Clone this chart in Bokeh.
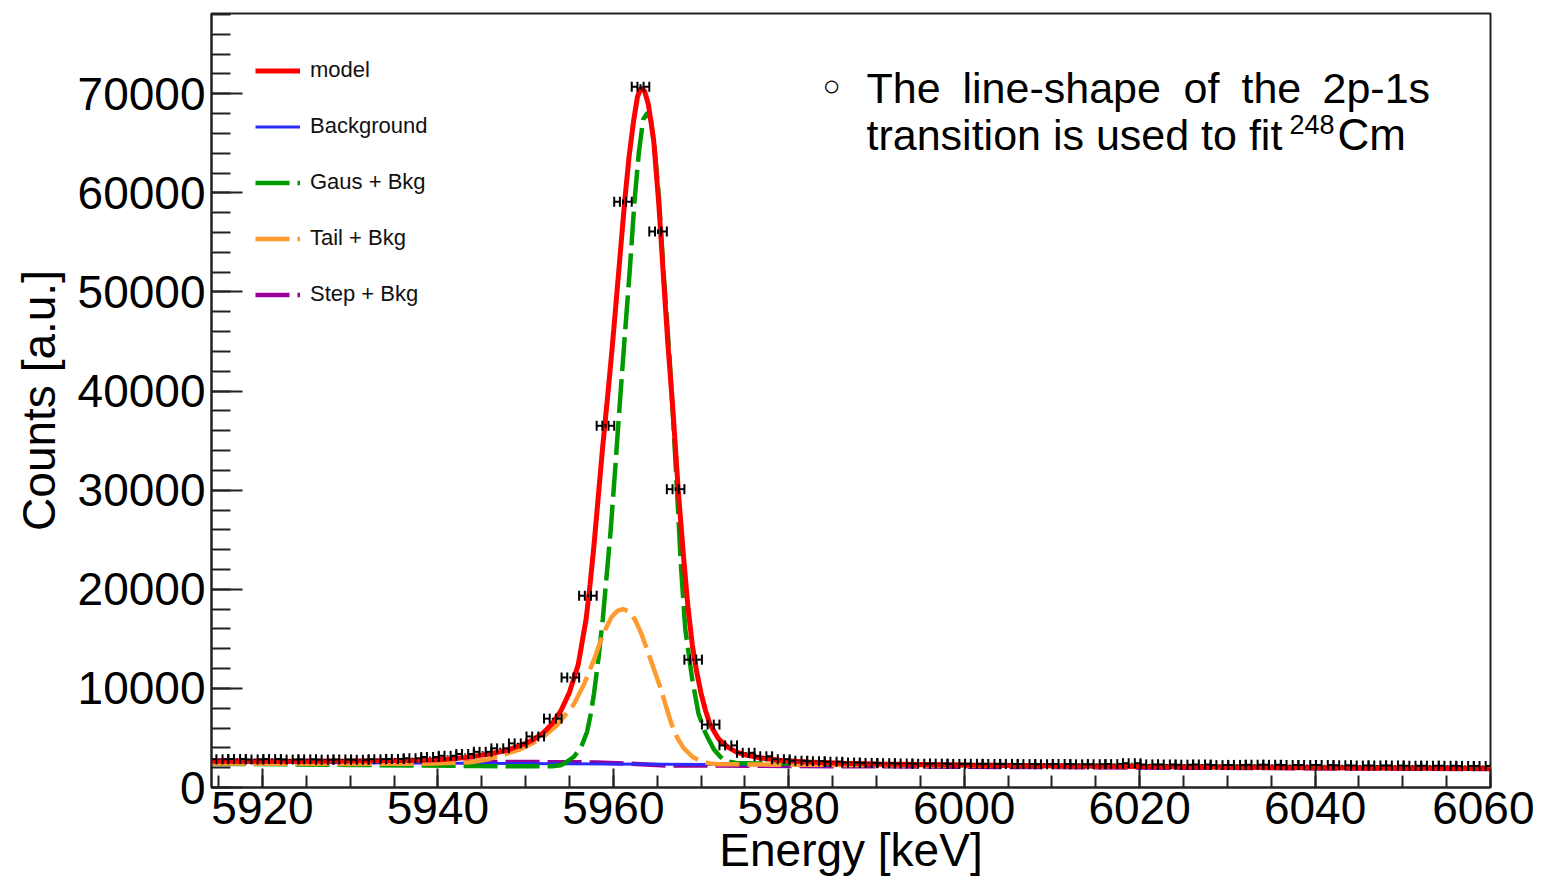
import numpy as np
from bokeh.plotting import figure
from bokeh.models import Range1d, SingleIntervalTicker, Legend, LegendItem, Label
from bokeh.embed import file_html
from bokeh.resources import INLINE

# ---------------- data ----------------
bin_centers = [5915.1, 5917.1, 5919.1, 5921.1, 5923.1, 5925.1, 5927.1, 5929.1, 5931.1, 5933.1,
               5935.1, 5937.1, 5939.1, 5941.1, 5943.1, 5945.1, 5947.1, 5949.1, 5951.1, 5953.1,
               5955.1, 5957.1, 5959.1, 5961.1, 5963.1, 5965.1, 5967.1, 5969.1, 5971.1, 5973.1,
               5975.1, 5977.1, 5979.1, 5981.1, 5983.1, 5985.1, 5987.1, 5989.1, 5991.1, 5993.1,
               5995.1, 5997.1, 5999.1, 6001.1, 6003.1, 6005.1, 6007.1, 6009.1, 6011.1, 6013.1,
               6015.1, 6017.1, 6019.1, 6021.1, 6023.1, 6025.1, 6027.1, 6029.1, 6031.1, 6033.1,
               6035.1, 6037.1, 6039.1, 6041.1, 6043.1, 6045.1, 6047.1, 6049.1, 6051.1, 6053.1,
               6055.1, 6057.1, 6059.1]
counts = [2850, 2880, 2830, 2870, 2820, 2840, 2810, 2830, 2800, 2850,
          2880, 2950, 3080, 3200, 3380, 3600, 3950, 4450, 5150, 6950,
          11100, 19350, 36500, 59100, 70700, 56100, 30100, 12900, 6350, 4250,
          3500, 3150, 2850, 2700, 2650, 2600, 2520, 2480, 2450, 2420,
          2400, 2410, 2380, 2390, 2370, 2380, 2360, 2350, 2370, 2340,
          2350, 2360, 2450, 2330, 2320, 2300, 2320, 2260, 2280, 2300,
          2290, 2280, 2270, 2260, 2250, 2230, 2220, 2210, 2200, 2190,
          2200, 2180, 2170]

model_x = [5914.2, 5920, 5925, 5930, 5935, 5938, 5940, 5942, 5944, 5946,
           5948, 5950, 5951, 5952, 5953, 5954, 5955, 5956, 5956.9, 5957.35,
           5957.8, 5958.3, 5958.8, 5959.3, 5959.8, 5960.3, 5960.8, 5961.3, 5961.8, 5962.3,
           5962.75, 5963.15, 5963.55, 5964.0, 5964.6, 5965.2, 5965.7, 5966.2, 5966.8, 5967.4,
           5968, 5968.5, 5969, 5969.5, 5970, 5970.5, 5971, 5972, 5973, 5974,
           5975, 5977, 5979, 5982, 5986, 5990, 6000, 6020, 6040, 6060]
model_y = [2640, 2650, 2660, 2680, 2720, 2760, 2800, 2930, 3130, 3400,
           3790, 4450, 4900, 5500, 6400, 7700, 9600, 12400, 17000, 20500,
           24500, 29500, 34500, 39000, 43700, 48800, 54000, 59200, 63700, 67200,
           69700, 70600, 70300, 68900, 65300, 58700, 51700, 45000, 38000, 30000,
           23300, 18300, 14400, 11700, 9500, 7800, 6400, 4900, 4100, 3600,
           3300, 2950, 2750, 2580, 2450, 2380, 2260, 2110, 2000, 1920]

bkg_x = [5914.2, 6060]
bkg_y = [2570, 1960]

gaus_x = [5914.2, 5930, 5945, 5953, 5954, 5954.7, 5955.5, 5956.3, 5957, 5957.4,
          5957.8, 5958.3, 5958.8, 5959.2, 5959.7, 5960.2, 5960.7, 5961.3, 5961.9, 5962.4,
          5962.9, 5963.4, 5963.9, 5964.3, 5964.7, 5965.2, 5965.8, 5966.4, 5966.8, 5967.2,
          5967.7, 5968.2, 5969.0, 5969.7, 5970.4, 5970.9, 5971.5, 5972.2, 5972.8, 5974,
          5976, 6060]
gaus_y = [2400, 2280, 2160, 2140, 2250, 2600, 3100, 4000, 5600, 7300,
          9500, 13000, 17000, 21000, 26000, 32000, 38300, 45500, 52500, 59000,
          64000, 67400, 68100, 67300, 64500, 59500, 51000, 43500, 37500, 31000,
          22500, 16000, 10900, 7500, 5700, 4800, 3800, 3100, 2650, 2480,
          2430, 1930]

tail_x = [5914.2, 5930, 5938, 5941, 5943.7, 5945.6, 5947.5, 5949.4, 5951.3, 5952.1,
          5953.6, 5955.5, 5956.7, 5957.8, 5958.4, 5959.0, 5959.8, 5960.5, 5961.1, 5961.7,
          5962.5, 5963.2, 5963.9, 5964.6, 5965.4, 5966.0, 5966.6, 5967.3, 5968.0, 5969.0,
          5970.0, 5971.0, 5972, 5980, 6060]
tail_y = [2420, 2380, 2400, 2470, 2550, 2820, 3330, 3850, 4700, 5170,
          6300, 8400, 10500, 12900, 14400, 15800, 17200, 17850, 18000, 17800,
          16900, 15500, 13800, 12000, 10000, 8200, 6500, 5000, 4000, 3100,
          2650, 2420, 2350, 2300, 1960]

step_x = [5914.2, 5950, 5958, 5962, 5966, 6060]
step_y = [2720, 2570, 2530, 2400, 2230, 1860]

legend_labels = ["model", "Background", "Gaus + Bkg", "Tail + Bkg", "Step + Bkg"]

# ---------------- layout ----------------
X0, X1 = 5914.19, 6060.0
Y0, Y1 = 0, 78100
W, H = 1534, 878
FL, FT, FR, FB = 211, 13, 1490, 787   # frame edges on the canvas
FONT = "Liberation Sans"

p = figure(width=W, height=H, x_range=Range1d(X0, X1), y_range=Range1d(Y0, Y1),
           output_backend="svg", toolbar_location=None,
           min_border_left=FL, min_border_top=FT, min_border_right=W - FR,
           min_border_bottom=H - FB)
p.background_fill_color = "white"
p.border_fill_color = "white"
p.outline_line_color = "#222222"
p.outline_line_width = 2
p.xgrid.visible = False
p.ygrid.visible = False

p.xaxis.ticker = SingleIntervalTicker(interval=20, num_minor_ticks=4)
p.yaxis.ticker = SingleIntervalTicker(interval=10000, num_minor_ticks=5)
for ax in (p.xaxis[0], p.yaxis[0]):
    ax.axis_line_color = "#222222"
    ax.axis_line_width = 2
    ax.major_tick_line_color = "#222222"
    ax.minor_tick_line_color = "#222222"
    ax.major_tick_line_width = 2
    ax.minor_tick_line_width = 2
    ax.major_tick_out = 0
    ax.minor_tick_out = 0
    ax.major_label_text_font = FONT
    ax.major_label_text_font_size = "46px"
    ax.major_label_text_color = "black"
    ax.axis_label_text_font = FONT
    ax.axis_label_text_font_size = "46px"
    ax.axis_label_text_font_style = "normal"
    ax.axis_label_text_color = "black"

p.xaxis.major_tick_in = 19
p.xaxis.minor_tick_in = 12
p.yaxis.major_tick_in = 31
p.yaxis.minor_tick_in = 19
p.xaxis.major_label_standoff = 4
p.yaxis.major_label_standoff = 6
p.xaxis.axis_label = "Energy [keV]"
p.yaxis.axis_label = "Counts [a.u.]"
p.xaxis.axis_label_standoff = -3
p.yaxis.axis_label_standoff = 10

# ---------------- curves ----------------
r_step = p.line(step_x, step_y, line_color="#990099", line_width=4.5, line_dash="34 8")
r_bkg = p.line(bkg_x, bkg_y, line_color="#2c2cff", line_width=3)
r_gaus = p.line(gaus_x, gaus_y, line_color="#009900", line_width=4.5, line_dash="34 8")
r_tail = p.line(tail_x, tail_y, line_color="#ff9a2e", line_width=4.5, line_dash="34 8")
r_model = p.line(model_x, model_y, line_color="#ff0000", line_width=5)

# ---------------- data points with error bars ----------------
xs = np.array(bin_centers, dtype=float)
ys = np.array(counts, dtype=float)
err = np.sqrt(ys)
HALF, GAP = 1.0, 0.35
p.segment(x0=xs - HALF, y0=ys, x1=xs - GAP, y1=ys, line_color="black", line_width=2)
p.segment(x0=xs + GAP, y0=ys, x1=xs + HALF, y1=ys, line_color="black", line_width=2)
p.segment(x0=xs, y0=ys - err, x1=xs, y1=ys + err, line_color="black", line_width=2)
cap_x = np.concatenate([xs - HALF, xs - GAP, xs + GAP, xs + HALF])
cap_y = np.concatenate([ys, ys, ys, ys])
p.scatter(cap_x, cap_y, marker="dash", angle=np.pi / 2, size=10,
          line_color="black", line_width=2)

# ---------------- legend ----------------
renderers = [r_model, r_bkg, r_gaus, r_tail, r_step]
legend = Legend(items=[LegendItem(label=l, renderers=[r]) for l, r in zip(legend_labels, renderers)],
                location="top_left", label_text_font=FONT, label_text_font_size="22px",
                label_text_color="#111111",
                glyph_width=45, glyph_height=25, label_height=25, spacing=30,
                padding=44, margin=0, label_standoff=10,
                background_fill_alpha=0, border_line_alpha=0)
p.add_layout(legend)

# ---------------- annotation text (canvas px -> data) ----------------
def dx(px):
    return X0 + (px - FL) / (FR - FL) * (X1 - X0)

def dy(py):
    return Y1 - (py - FT) / (FB - FT) * (Y1 - Y0)

line1_words = ["The", "line-shape", "of", "the", "2p-1s"]
line1_px = [866, 962, 1183, 1241, 1322]
for w, px in zip(line1_words, line1_px):
    p.add_layout(Label(x=dx(px), y=dy(87), text=w, text_font=FONT, text_font_size="43px",
                       text_color="black", text_baseline="alphabetic", text_align="left"))
p.add_layout(Label(x=dx(822), y=dy(85), text="\u25cb", text_font=FONT, text_font_size="30px",
                   text_color="black", text_baseline="alphabetic", text_align="left"))
p.add_layout(Label(x=dx(866), y=dy(134), text="transition is used to fit", text_font=FONT,
                   text_font_size="43px", text_color="black", text_baseline="alphabetic"))
p.add_layout(Label(x=dx(1289), y=dy(124), text="248", text_font=FONT,
                   text_font_size="27px", text_color="black", text_baseline="alphabetic"))
p.add_layout(Label(x=dx(1337), y=dy(134), text="Cm", text_font=FONT,
                   text_font_size="44px", text_color="black", text_baseline="alphabetic"))

open("out.html", "w").write(file_html(p, INLINE))
